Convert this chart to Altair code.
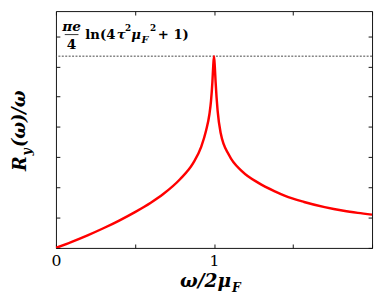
import altair as alt
import pandas as pd

# ---- data ----
x_vals = [0, 0.1, 0.2, 0.3, 0.4, 0.5, 0.6, 0.681, 0.785, 0.868, 0.919, 0.95,
          0.971, 0.981, 0.99, 0.995, 1.0, 1.005, 1.01, 1.023, 1.043, 1.095, 1.178,
          1.281, 1.385, 1.45, 1.57, 1.7, 1.82, 1.91, 2.0]
r_vals = [0, 0.2, 0.415, 0.65, 0.905, 1.185, 1.495, 1.79, 2.27, 2.8, 3.34, 3.88,
          4.42, 4.85, 5.5, 6.0, 6.34, 6.0, 5.5, 4.53, 3.78, 3.07, 2.53,
          2.15, 1.87, 1.72, 1.52, 1.35, 1.23, 1.16, 1.1]
limit_value = [6.34]
x_ticks = [0, 0.5, 1, 1.5, 2]
x_labels = [0, 1]
y_ticks = [0, 1, 2, 3, 4, 5, 6, 7]

anno_parts = ["πe", "4", "ln(4", "τ", "2", "μ", "F", "2", "+ 1)"]
xtitle_parts = ["ω/2μ", "F"]
ytitle_parts = ["R", "y", "(ω)/ω"]

W, H = 323, 242
FONT = "DejaVu Serif"

xs = alt.Scale(domain=[0, 2], nice=False, zero=False)
ys = alt.Scale(domain=[0, 7.83], nice=False, zero=False)

curve = pd.DataFrame({"x": x_vals, "r": r_vals})
limit = pd.DataFrame({"r": limit_value})

tick_common = dict(grid=False, domain=False, labels=False, ticks=True, tickSize=4,
                   tickColor="#111", tickWidth=1, title=None)

rule = alt.Chart(limit).mark_rule(color="#444", strokeDash=[2, 1.5], strokeWidth=1).encode(
    y=alt.Y("r:Q", scale=ys, axis=None)
)

line = alt.Chart(curve).mark_line(color="#ff0000", strokeWidth=2.5, clip=True,
                                  interpolate="monotone").encode(
    x=alt.X("x:Q", scale=xs, axis=alt.Axis(orient="bottom", values=x_labels, ticks=False,
                                           domain=False, grid=False, title=None,
                                           labelFont=FONT, labelFontSize=16,
                                           labelColor="black", labelPadding=5,
                                           labelFlush=False, format="d")),
    y=alt.Y("r:Q", scale=ys, axis=None),
)

ticksA = alt.Chart(curve).mark_point(opacity=0).encode(
    x=alt.X("x:Q", scale=xs, axis=alt.Axis(orient="top", offset=-H, values=x_ticks, **tick_common)),
    y=alt.Y("r:Q", scale=ys, axis=alt.Axis(orient="right", offset=-W, values=y_ticks, **tick_common)),
)
ticksB = alt.Chart(curve).mark_point(opacity=0).encode(
    x=alt.X("x:Q", scale=xs, axis=alt.Axis(orient="bottom", offset=-H, values=x_ticks, **tick_common)),
    y=alt.Y("r:Q", scale=ys, axis=alt.Axis(orient="left", offset=-W, values=y_ticks, **tick_common)),
)


def txt(s, x, y, size, italic=False, align="left", baseline="alphabetic", angle=0):
    kw = dict(font=FONT, fontSize=size, fontWeight="bold", align=align,
              baseline=baseline, color="black")
    if italic:
        kw["fontStyle"] = "italic"
    if angle:
        kw["angle"] = angle
    return alt.Chart(pd.DataFrame({"t": [s]})).mark_text(**kw).encode(
        text="t:N", x=alt.value(x), y=alt.value(y))


texts = [
    txt(anno_parts[0], 16, 20, 14, italic=True, align="center"),
    txt(anno_parts[1], 16, 39, 14, align="center"),
    txt(anno_parts[2], 30, 29, 13.5),
    txt(anno_parts[3], 62, 29, 13.5, italic=True),
    txt(anno_parts[4], 70.5, 20, 9),
    txt(anno_parts[5], 77, 29, 13.5, italic=True),
    txt(anno_parts[6], 87.5, 33, 10, italic=True),
    txt(anno_parts[7], 96, 20, 9),
    txt(anno_parts[8], 104, 29, 13.5),
    txt(xtitle_parts[0], 179, 282, 19, italic=True, align="right"),
    txt(xtitle_parts[1], 180, 287, 12.5, italic=True),
    txt(ytitle_parts[0], -36, 156, 18, italic=True, align="center", baseline="middle", angle=270),
    txt(ytitle_parts[1], -29, 144, 12.5, italic=True, align="center", baseline="middle", angle=270),
    txt(ytitle_parts[2], -37, 110, 18, italic=True, align="center", baseline="middle", angle=270),
]

bar = alt.Chart(pd.DataFrame({"a": [0]})).mark_rule(color="black", strokeWidth=0.8).encode(
    x=alt.value(9), x2=alt.value(23), y=alt.value(24))

chart = alt.layer(rule, line, ticksA, ticksB, bar, *texts).resolve_axis(
    x="independent", y="independent"
).properties(
    width=W, height=H,
    autosize=alt.AutoSizeParams(type="none"),
    padding={"left": 49, "top": 0, "right": 2, "bottom": 48},
).configure_view(stroke="#111", strokeWidth=1)

chart.save("out.html", embed_options={"renderer": "svg", "actions": False})
